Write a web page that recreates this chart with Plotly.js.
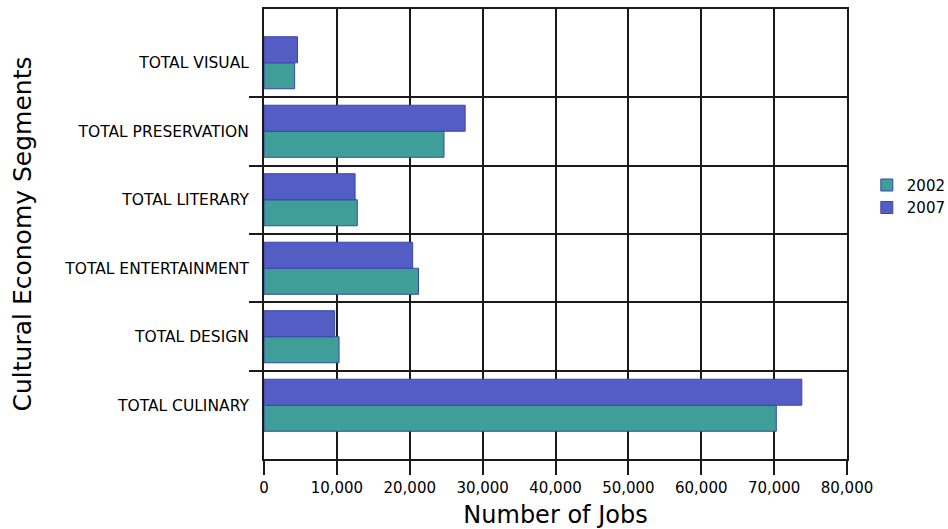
<!DOCTYPE html>
<html>
<head>
<meta charset="utf-8">
<script src="https://cdn.plot.ly/plotly-3.0.1.min.js"></script>
<style>html,body{margin:0;padding:0;background:#fff;}#chart{width:948px;height:529px;}</style>
</head>
<body>
<div id="chart"></div>
<script>
const categories = ["TOTAL CULINARY", "TOTAL DESIGN", "TOTAL ENTERTAINMENT", "TOTAL LITERARY", "TOTAL PRESERVATION", "TOTAL VISUAL"];
const jobs2002 = [70300, 10300, 21200, 12800, 24700, 4200];
const jobs2007 = [73800, 9700, 20400, 12500, 27600, 4600];
const seriesNames = ["2002", "2007"];
const boundaryTicks = [0.5, 1.5, 2.5, 3.5, 4.5];
const yRange = [-0.785, 5.785];

const font = "DejaVu Sans, Verdana, sans-serif";
const traces = [
  {type: "bar", orientation: "h", name: seriesNames[0], y: categories, x: jobs2002,
   marker: {color: "rgb(64,158,152)", line: {color: "rgb(58,70,172)", width: 1}}, hoverinfo: "x+name"},
  {type: "bar", orientation: "h", name: seriesNames[1], y: categories, x: jobs2007,
   marker: {color: "rgb(83,93,196)", line: {color: "rgb(58,70,172)", width: 1}}, hoverinfo: "x+name"},
  {type: "scatter", mode: "markers", x: [null], y: [null], yaxis: "y2", showlegend: false,
   hoverinfo: "skip", marker: {opacity: 0}}
];
const layout = {
  width: 948, height: 529,
  margin: {l: 264, r: 101, t: 9, b: 70, pad: 0, autoexpand: false},
  paper_bgcolor: "#fff", plot_bgcolor: "#fff",
  barmode: "group", bargap: 0.24, bargroupgap: 0,
  font: {family: font, color: "#000"},
  showlegend: true,
  legend: {x: 1.034, y: 0.645, xanchor: "left", yanchor: "top", traceorder: "normal",
           font: {size: 15, family: font}, bgcolor: "rgba(0,0,0,0)", itemwidth: 30},
  xaxis: {
    range: [0, 80000], dtick: 10000, tick0: 0, tickformat: ",d",
    showgrid: true, gridcolor: "#1a1a1a", gridwidth: 2, zeroline: false,
    showline: true, linecolor: "#1a1a1a", linewidth: 2, mirror: true,
    ticks: "outside", ticklen: 14, tickcolor: "#1a1a1a", tickwidth: 2,
    tickfont: {size: 15, family: font}, ticklabelstandoff: 0,
    title: {text: "Number of Jobs", font: {size: 24, family: font}, standoff: 12},
    automargin: false, fixedrange: true
  },
  yaxis: {
    type: "category", categoryorder: "array", categoryarray: categories,
    range: yRange, showgrid: false, zeroline: false,
    showline: true, linecolor: "#1a1a1a", linewidth: 2, mirror: true,
    ticks: "outside", ticklen: 10, tickcolor: "rgba(0,0,0,0)",
    tickfont: {size: 15.5, family: font},
    title: {text: "Cultural Economy Segments", font: {size: 25, family: font}, standoff: 25},
    automargin: false, fixedrange: true
  },
  yaxis2: {
    overlaying: "y", side: "left", type: "linear", range: yRange,
    tickvals: boundaryTicks, showticklabels: false,
    showgrid: true, gridcolor: "#1a1a1a", gridwidth: 2, zeroline: false,
    ticks: "outside", ticklen: 14, tickcolor: "#1a1a1a", tickwidth: 2,
    showline: false, automargin: false, fixedrange: true
  }
};
Plotly.newPlot("chart", traces, layout, {displayModeBar: false, staticPlot: true});
</script>
</body>
</html>
